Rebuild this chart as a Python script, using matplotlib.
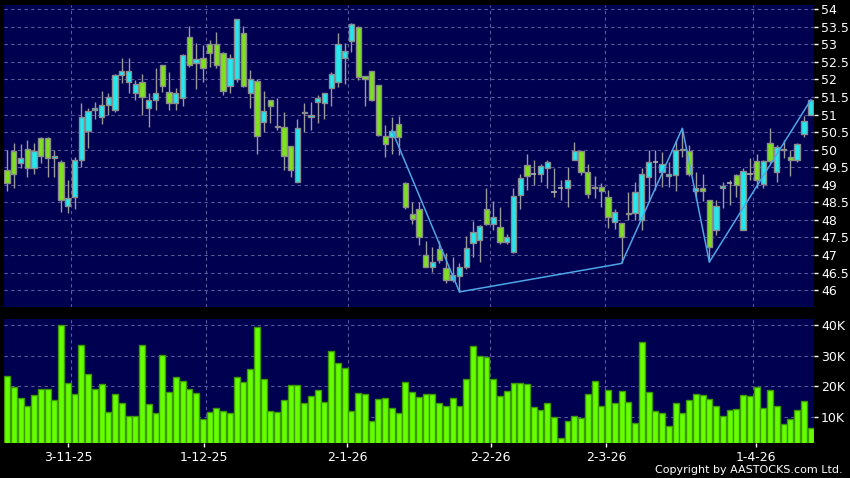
import numpy as np
import matplotlib
matplotlib.use("Agg")
import matplotlib.pyplot as plt

# daily OHLC (120 sessions)
opens = [49.42, 49.96, 49.63, 50.01, 49.47, 50.32, 50.32, 49.76, 49.66, 48.39,
         48.64, 49.70, 50.53, 51.13, 50.92, 51.26, 51.13, 52.13, 51.92, 51.60,
         51.92, 51.20, 51.41, 52.40, 51.65, 51.32, 51.46, 53.20, 52.46, 52.60,
         53.00, 53.00, 52.74, 51.81, 52.00, 53.31, 51.60, 51.95, 50.80, 51.41,
         50.66, 50.65, 50.10, 49.09, 51.05, 50.92, 51.35, 51.34, 51.75, 51.94,
         52.60, 53.10, 53.50, 52.10, 52.25, 51.84, 50.40, 50.37, 50.72, 49.06,
         48.16, 48.30, 47.00, 46.66, 47.16, 46.64, 46.30, 46.41, 46.65, 47.35,
         47.44, 48.30, 47.88, 47.79, 47.36, 47.09, 48.71, 49.56, 49.30, 49.30,
         49.47, 48.80, 48.90, 48.90, 49.72, 49.97, 49.37, 48.90, 48.94, 48.64,
         47.95, 47.90, 48.16, 48.20, 48.01, 49.23, 49.64, 49.37, 49.26, 49.28,
         50.00, 49.97, 48.82, 48.90, 48.56, 47.71, 48.90, 49.06, 49.28, 47.71,
         49.30, 49.68, 49.02, 50.20, 49.37, 49.98, 49.78, 49.72, 50.46, 51.00]
highs = [50.00, 50.18, 50.16, 50.27, 50.20, 50.37, 50.37, 49.99, 49.70, 49.15,
         49.80, 51.34, 51.20, 51.37, 51.68, 51.60, 52.16, 52.60, 52.60, 51.98,
         52.15, 51.60, 52.32, 52.42, 52.22, 51.75, 52.73, 53.52, 53.03, 52.98,
         53.12, 53.36, 52.79, 52.72, 53.72, 53.52, 52.27, 52.00, 51.68, 51.41,
         51.46, 51.06, 50.10, 50.86, 51.32, 51.35, 51.56, 51.60, 52.22, 53.31,
         53.03, 53.60, 53.52, 52.10, 52.25, 51.84, 50.70, 50.94, 50.96, 49.08,
         48.52, 48.50, 47.41, 47.23, 47.41, 47.06, 46.95, 46.76, 47.54, 47.98,
         47.85, 48.90, 48.55, 48.36, 47.60, 48.90, 49.30, 49.87, 49.70, 49.60,
         49.72, 49.47, 49.15, 49.51, 50.23, 49.97, 49.59, 49.25, 49.06, 48.85,
         48.30, 47.92, 48.80, 49.09, 49.47, 49.99, 49.99, 49.94, 49.66, 50.27,
         50.61, 50.13, 49.37, 49.32, 48.56, 48.56, 49.09, 49.13, 49.32, 49.47,
         49.75, 49.87, 49.70, 50.61, 50.13, 50.27, 50.00, 50.20, 50.96, 51.43]
lows = [48.82, 48.90, 49.47, 49.23, 49.30, 49.63, 49.21, 49.23, 48.23, 48.20,
        48.30, 49.51, 50.06, 50.86, 50.73, 50.99, 51.08, 51.89, 51.60, 51.41,
        50.99, 50.65, 51.13, 51.65, 51.13, 51.13, 51.24, 52.36, 51.72, 51.94,
        52.36, 52.32, 51.56, 51.60, 51.94, 51.79, 51.20, 49.89, 50.51, 50.75,
        50.56, 49.42, 49.21, 49.09, 50.51, 50.56, 50.75, 50.87, 51.24, 51.79,
        51.87, 52.79, 51.98, 51.25, 51.38, 50.40, 49.80, 49.89, 49.85, 48.30,
        47.88, 47.28, 46.66, 46.52, 46.76, 46.21, 46.24, 45.95, 46.60, 46.95,
        46.81, 47.85, 47.71, 47.30, 47.30, 47.05, 48.30, 48.85, 48.99, 49.09,
        48.90, 48.66, 48.56, 48.37, 49.70, 49.28, 48.61, 48.61, 48.37, 47.76,
        47.74, 46.76, 48.01, 47.99, 47.71, 48.52, 48.85, 48.94, 48.94, 48.83,
        49.80, 49.25, 48.56, 48.54, 46.80, 47.56, 48.33, 48.42, 48.66, 47.71,
        49.15, 48.90, 48.90, 49.61, 49.09, 49.75, 49.25, 49.66, 50.37, 50.98]
closes = [49.06, 49.32, 49.75, 49.47, 49.97, 49.82, 49.75, 49.82, 48.56, 48.63,
          49.72, 50.92, 51.11, 51.20, 51.26, 51.51, 52.12, 52.25, 52.25, 51.86,
          51.51, 51.41, 51.60, 51.81, 51.32, 51.60, 52.71, 52.41, 52.59, 52.32,
          52.74, 52.40, 51.67, 52.60, 53.71, 51.81, 52.00, 50.40, 51.11, 51.25,
          50.64, 49.82, 49.42, 50.61, 51.04, 51.00, 51.46, 51.60, 52.15, 53.00,
          52.81, 53.57, 52.06, 52.00, 51.41, 50.42, 50.15, 50.54, 50.35, 48.37,
          48.04, 47.52, 46.66, 46.81, 46.85, 46.30, 46.43, 46.65, 47.19, 47.66,
          47.82, 47.88, 48.07, 47.36, 47.50, 48.69, 49.18, 49.25, 49.30, 49.53,
          49.64, 48.80, 48.90, 49.13, 49.97, 49.37, 48.75, 48.94, 48.83, 48.07,
          48.23, 47.52, 48.20, 48.80, 49.30, 49.64, 49.64, 49.58, 49.28, 50.00,
          49.98, 49.30, 48.90, 48.83, 47.22, 48.41, 48.97, 49.06, 48.99, 49.40,
          49.30, 49.13, 49.68, 49.68, 50.08, 50.00, 49.72, 50.16, 50.81, 51.41]
# volume in thousands
volumes = [23.4, 19.9, 16.4, 13.8, 17.3, 19.1, 19.1, 15.6, 40.0, 21.1,
           17.7, 33.5, 24.1, 19.3, 20.9, 11.7, 17.6, 14.5, 10.3, 10.3,
           33.5, 14.3, 11.3, 30.2, 18.1, 23.0, 21.9, 19.3, 17.9, 9.6,
           11.8, 12.9, 11.9, 11.3, 23.1, 21.6, 25.7, 39.3, 22.4, 12.2,
           11.6, 15.6, 20.4, 20.6, 14.7, 16.9, 19.0, 15.0, 31.5, 27.5,
           26.0, 11.9, 18.0, 17.4, 8.9, 16.0, 16.2, 13.1, 11.3, 21.6,
           18.2, 16.7, 17.4, 17.4, 14.6, 13.7, 16.2, 13.8, 22.3, 33.2,
           29.9, 29.6, 22.4, 17.0, 18.5, 21.2, 21.2, 20.9, 13.4, 12.4,
           14.6, 10.1, 3.3, 8.9, 10.5, 9.9, 17.4, 21.7, 13.7, 18.8,
           14.8, 18.6, 14.9, 8.0, 34.5, 18.3, 12.2, 11.4, 7.3, 14.5,
           11.3, 15.5, 17.6, 17.2, 15.8, 13.8, 10.3, 12.4, 12.7, 17.2,
           16.9, 19.7, 13.0, 18.9, 13.8, 7.9, 9.4, 12.3, 15.4, 6.6]

# zigzag overlay (session index, price)
zz_idx = [57, 67, 91, 100, 104, 119]
zz_price = [50.55, 45.95, 46.76, 50.61, 46.80, 51.41]

date_labels = ["3-11-25", "1-12-25", "2-1-26", "2-2-26", "2-3-26", "1-4-26"]
date_pos = [9.1, 29.2, 50.4, 71.6, 88.7, 110.9]
grid_pos = [9.5, 29.5, 50.5, 71.5, 88.5, 110.5]

price_ticks = np.arange(46, 54.01, 0.5)
vol_ticks = [10, 20, 30, 40]

NAVY = "#000050"
CYAN = "#22e8f0"
GREEN = "#7ee01e"
GRID = "#5a5a9c"

fig = plt.figure(figsize=(8.5, 4.78), dpi=100, facecolor="black")
W, H = 850, 478
ax = fig.add_axes([4 / W, 1 - 307 / H, 810 / W, 302 / H])
axv = fig.add_axes([4 / W, 1 - 443 / H, 810 / W, 124 / H])

x = np.arange(len(opens))
o = np.array(opens)
c = np.array(closes)
hi = np.array(highs)
lo = np.array(lows)

for a in (ax, axv):
    a.set_facecolor(NAVY)
    for s in a.spines.values():
        s.set_visible(False)
    for g in grid_pos:
        a.axvline(g, color=GRID, lw=0.8, ls=(0, (3, 3)), zorder=0)
    a.set_xlim(-0.45, 119.5)

for p in price_ticks:
    ax.axhline(p, color=GRID, lw=0.8, ls=(0, (3, 3)), zorder=0)
for v in vol_ticks:
    axv.axhline(v, color=GRID, lw=0.8, ls=(0, (3, 3)), zorder=0)

# candles
up = c > o
down = c < o
flat = c == o
ax.vlines(x, lo, hi, color="#9a9a9a", lw=1, zorder=2)
body_col = np.where(up, CYAN, GREEN)
bottoms = np.minimum(o, c)
heights = np.maximum(np.abs(c - o), 0.04)
ax.bar(x[~flat], heights[~flat], bottom=bottoms[~flat], width=0.78,
       color=body_col[~flat], edgecolor="#8c8c8c", linewidth=1, zorder=3)
ax.hlines(c[flat], x[flat] - 0.4, x[flat] + 0.4, color="#b0b0b0", lw=1.2, zorder=3)

ax.plot(zz_idx, zz_price, color="#4da6e8", lw=1.1, zorder=4)

ax.set_ylim(45.52, 54.12)
ax.yaxis.tick_right()
ax.set_yticks(price_ticks)
ax.set_yticklabels(["{:g}".format(p) for p in price_ticks])
ax.tick_params(axis="y", colors="white", labelsize=9, length=3, width=1, pad=2)
ax.set_xticks([])

# volume
axv.bar(x, volumes, width=0.88, color="#66ff00", edgecolor="#3c9a00",
        linewidth=1, zorder=3)
axv.set_ylim(1.66, 41.9)
axv.yaxis.tick_right()
axv.set_yticks(vol_ticks)
axv.set_yticklabels(["{}K".format(v) for v in vol_ticks])
axv.tick_params(axis="y", colors="white", labelsize=9, length=3, width=1, pad=2)
axv.set_xticks(date_pos)
axv.set_xticklabels(date_labels)
axv.tick_params(axis="x", colors="white", labelsize=9, length=3, width=1, pad=3)

fig.text(843 / W, 1 - 470 / H, "Copyright by AASTOCKS.com Ltd.", color="white",
         fontsize=8, ha="right", va="center")

plt.savefig("out.png", dpi=100, facecolor="black")
